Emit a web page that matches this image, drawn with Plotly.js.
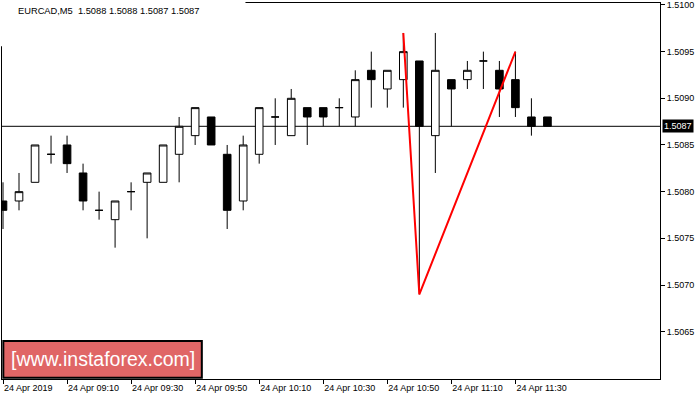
<!DOCTYPE html>
<html>
<head>
<meta charset="utf-8">
<script src="https://cdn.plot.ly/plotly-3.0.1.min.js"></script>
<style>html,body{margin:0;padding:0;background:#fff;}#chart{width:700px;height:400px;}</style>
</head>
<body>
<div id="chart"></div>
<script>
// 5-minute candles, 24 Apr 2019
var times = ["08:50","08:55","09:00","09:05","09:10","09:15","09:20","09:25","09:30","09:35",
             "09:40","09:45","09:50","09:55","10:00","10:05","10:10","10:15","10:20","10:25",
             "10:30","10:35","10:40","10:45","10:50","10:55","11:00","11:05","11:10","11:15",
             "11:20","11:25","11:30","11:35","11:40"];
var openP  = [1.5079,1.5079,1.5081,1.5084,1.5085,1.5082,1.5078,1.5077,1.5080,1.5081,
              1.5081,1.5084,1.5086,1.5088,1.5084,1.5079,1.5084,1.5088,1.5086,1.5089,
              1.5089,1.5089,1.5088,1.5093,1.5091,1.5092,1.5094,1.5086,1.5092,1.5092,
              1.5094,1.5093,1.5092,1.5088,1.5088];
var highP  = [1.5081,1.5082,1.5085,1.5086,1.5086,1.5083,1.5080,1.5079,1.5081,1.5082,
              1.5085,1.5088,1.5089,1.5088,1.5085,1.5086,1.5089,1.5090,1.5091,1.5089,
              1.5089,1.5090,1.5093,1.5095,1.5093,1.5097,1.5094,1.5097,1.5092,1.5094,
              1.5095,1.5094,1.5095,1.5090,1.5088];
var lowP   = [1.5076,1.5078,1.5081,1.5083,1.5082,1.5078,1.5077,1.5074,1.5078,1.5075,
              1.5081,1.5081,1.5085,1.5085,1.5076,1.5078,1.5083,1.5085,1.5086,1.5085,
              1.5087,1.5087,1.5087,1.5089,1.5089,1.5089,1.5069,1.5082,1.5087,1.5091,
              1.5091,1.5088,1.5088,1.5086,1.5087];
var closeP = [1.5078,1.5080,1.5085,1.5084,1.5083,1.5079,1.5078,1.5079,1.5080,1.5082,
              1.5085,1.5087,1.5089,1.5085,1.5078,1.5085,1.5089,1.5088,1.5090,1.5088,
              1.5088,1.5089,1.5092,1.5092,1.5093,1.5095,1.5087,1.5093,1.5091,1.5093,
              1.5094,1.5091,1.5089,1.5087,1.5087];

// pattern line (red)
var patternX = ["10:55","11:00","11:30"];
var patternY = [1.5097,1.5069,1.5095];

// current price line
var lastPrice = 1.5087;

// axis ticks
var xTickVals = ["08:50","09:10","09:30","09:50","10:10","10:30","10:50","11:10","11:30"];
var xTickText = ["24 Apr 2019","24 Apr 09:10","24 Apr 09:30","24 Apr 09:50","24 Apr 10:10",
                 "24 Apr 10:30","24 Apr 10:50","24 Apr 11:10","24 Apr 11:30"];
var yTickVals = [1.5065,1.5070,1.5075,1.5080,1.5085,1.5090,1.5095,1.5100];

var titleText = "EURCAD,M5  1.5088 1.5088 1.5087 1.5087";
var logoText = "[www.instaforex.com]";

var font = "Liberation Sans, Arial, sans-serif";

var traces = [
  {
    type: "candlestick",
    x: times, open: openP, high: highP, low: lowP, close: closeP,
    increasing: {line: {color: "#000000", width: 1}, fillcolor: "#ffffff"},
    decreasing: {line: {color: "#000000", width: 1}, fillcolor: "#000000"},
    whiskerwidth: 0,
    hoverinfo: "none",
    showlegend: false
  },
  {
    type: "scatter", mode: "lines",
    x: patternX, y: patternY,
    line: {color: "#ff0000", width: 2},
    hoverinfo: "none",
    showlegend: false
  }
];

var layout = {
  width: 700, height: 400,
  margin: {l: 2, r: 40, t: 3, b: 21, pad: 0},
  paper_bgcolor: "#ffffff",
  plot_bgcolor: "#ffffff",
  showlegend: false,
  boxgap: 0.32,
  title: {
    text: titleText,
    x: 18/700, xref: "container", xanchor: "left",
    y: 1 - 11/400, yref: "container", yanchor: "middle",
    font: {family: font, size: 9.3, color: "#000000"}
  },
  xaxis: {
    type: "category",
    range: [-0.0625, 41.03],
    rangeslider: {visible: false},
    showgrid: false, zeroline: false,
    showline: true, linecolor: "#000000", linewidth: 1, mirror: true,
    ticks: "outside", ticklen: 4, tickcolor: "#000000", tickwidth: 1,
    tickmode: "array", tickvals: xTickVals, ticktext: xTickText,
    ticklabelposition: "outside right",
    tickfont: {family: font, size: 9, color: "#000000"},
    fixedrange: true
  },
  yaxis: {
    side: "right",
    range: [1.505993, 1.510021],
    showgrid: false, zeroline: false,
    showline: true, linecolor: "#000000", linewidth: 1, mirror: true,
    ticks: "outside", ticklen: 4, tickcolor: "#000000", tickwidth: 1,
    tickmode: "array", tickvals: yTickVals, tickformat: ".4f",
    tickfont: {family: font, size: 9, color: "#000000"},
    fixedrange: true
  },
  shapes: [
    {type: "line", xref: "paper", yref: "y", x0: 0, x1: 1, y0: lastPrice, y1: lastPrice,
     line: {color: "#000000", width: 1}, layer: "below"},
    {type: "rect", xref: "paper", yref: "paper",
     x0: -0.01, x1: 0.37, y0: 0.885, y1: 1.02,
     fillcolor: "#ffffff", line: {width: 0}, layer: "above"},
    {type: "rect", xref: "paper", yref: "paper",
     x0: 0.002, x1: 0.3037, y0: 0.003, y1: 0.1011,
     fillcolor: "#E06666", line: {color: "#000000", width: 2}, layer: "above"}
  ],
  annotations: [
    {xref: "paper", yref: "y", x: 1, y: lastPrice, xanchor: "left", yanchor: "middle",
     xshift: 2, text: lastPrice.toFixed(4), showarrow: false,
     bgcolor: "#000000", borderpad: 1,
     font: {family: font, size: 9, color: "#ffffff"}},
    {xref: "paper", yref: "paper", x: 0.1529, y: 0.0521, xanchor: "center", yanchor: "middle",
     text: logoText, showarrow: false,
     font: {family: font, size: 19.5, color: "#ffffff"}}
  ]
};

Plotly.newPlot("chart", traces, layout, {displayModeBar: false, staticPlot: true});
</script>
</body>
</html>
